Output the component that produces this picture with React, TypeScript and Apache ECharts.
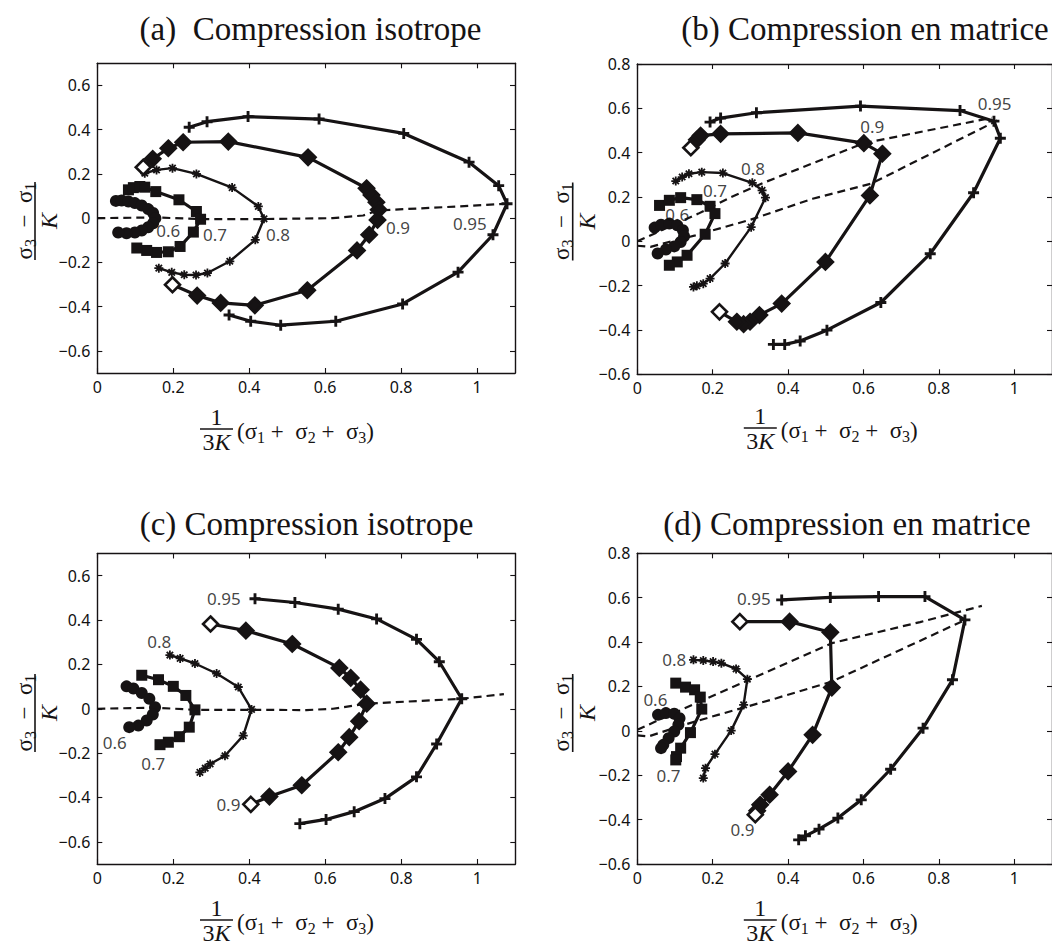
import React, { useEffect, useRef } from "react";
import * as echarts from "echarts";

// ---------- tick values ----------
const xTicks = [0, 0.2, 0.4, 0.6, 0.8, 1];
const yTicksIso = [-0.6, -0.4, -0.2, 0, 0.2, 0.4, 0.6];
const yTicksMat = [-0.6, -0.4, -0.2, 0, 0.2, 0.4, 0.6, 0.8];
const levels = ["0.6", "0.7", "0.8", "0.9", "0.95"];

// ---------- (a) Compression isotrope ----------
const a60 = [[0.049,0.078],[0.064,0.080],[0.082,0.075],[0.099,0.068],[0.117,0.057],[0.134,0.041],[0.147,0.023],[0.153,0.0],[0.147,-0.023],[0.134,-0.041],[0.117,-0.056],[0.099,-0.065],[0.077,-0.068],[0.055,-0.065]];
const a70 = [[0.082,0.128],[0.095,0.138],[0.112,0.143],[0.125,0.140],[0.154,0.120],[0.215,0.083],[0.261,0.030],[0.272,-0.005],[0.253,-0.063],[0.218,-0.128],[0.187,-0.152],[0.156,-0.155],[0.130,-0.146],[0.104,-0.135]];
const a80 = [[0.125,0.203],[0.156,0.218],[0.198,0.226],[0.261,0.200],[0.355,0.138],[0.424,0.053],[0.439,-0.003],[0.416,-0.098],[0.349,-0.195],[0.290,-0.248],[0.260,-0.257],[0.229,-0.256],[0.196,-0.245],[0.162,-0.226]];
const a90 = [[0.121,0.230],[0.146,0.268],[0.187,0.316],[0.226,0.343],[0.345,0.346],[0.555,0.275],[0.709,0.135],[0.722,0.105],[0.735,0.072],[0.741,0.038],[0.738,-0.008],[0.716,-0.075],[0.684,-0.146],[0.553,-0.326],[0.415,-0.394],[0.325,-0.383],[0.263,-0.350],[0.198,-0.301]];
const a95 = [[0.242,0.411],[0.289,0.436],[0.397,0.459],[0.584,0.448],[0.807,0.383],[0.979,0.253],[1.057,0.147],[1.079,0.065],[1.042,-0.075],[0.950,-0.244],[0.804,-0.388],[0.628,-0.466],[0.483,-0.484],[0.404,-0.466],[0.347,-0.438]];
const aDash = [[0,0],[0.153,0.003],[0.272,-0.004],[0.439,-0.004],[0.62,0.0],[0.70,0.012],[0.741,0.035],[0.884,0.047],[1.079,0.065]];
const aLabels = [[0.187,-0.056],[0.310,-0.075],[0.476,-0.075],[0.792,-0.042],[0.981,-0.023]];

// ---------- (b) Compression en matrice ----------
const b60 = [[0.046,0.062],[0.063,0.075],[0.085,0.080],[0.106,0.072],[0.121,0.050],[0.124,0.023],[0.115,-0.003],[0.098,-0.023],[0.076,-0.037],[0.054,-0.055]];
const b70 = [[0.059,0.162],[0.085,0.185],[0.115,0.197],[0.158,0.188],[0.193,0.158],[0.206,0.125],[0.180,0.032],[0.132,-0.063],[0.106,-0.093],[0.085,-0.108]];
const b80 = [[0.102,0.272],[0.119,0.290],[0.137,0.305],[0.171,0.312],[0.227,0.308],[0.305,0.264],[0.331,0.230],[0.340,0.197],[0.302,0.064],[0.233,-0.100],[0.193,-0.168],[0.175,-0.191],[0.158,-0.201],[0.149,-0.206]];
const b90 = [[0.142,0.422],[0.158,0.458],[0.168,0.477],[0.221,0.485],[0.426,0.489],[0.601,0.443],[0.650,0.395],[0.617,0.207],[0.499,-0.093],[0.383,-0.281],[0.324,-0.333],[0.299,-0.363],[0.282,-0.374],[0.264,-0.363],[0.218,-0.318]];
const b95 = [[0.193,0.538],[0.221,0.556],[0.316,0.580],[0.592,0.610],[0.856,0.590],[0.946,0.542],[0.963,0.465],[0.892,0.219],[0.777,-0.056],[0.646,-0.276],[0.503,-0.401],[0.432,-0.450],[0.391,-0.465],[0.361,-0.465]];
const bDashUpper = [[0,0],[0.162,0.125],[0.249,0.200],[0.339,0.267],[0.601,0.443],[0.94,0.557]];
const bDashLower = [[0,-0.02],[0.035,-0.025],[0.154,0.027],[0.301,0.098],[0.465,0.192],[0.62,0.26],[0.955,0.545]];
const bLabels = [[0.106,0.120],[0.206,0.230],[0.307,0.327],[0.623,0.518],[0.948,0.620]];

// ---------- (c) Compression isotrope ----------
const c60 = [[0.077,0.101],[0.095,0.091],[0.117,0.071],[0.137,0.045],[0.152,0.007],[0.146,-0.026],[0.130,-0.053],[0.108,-0.076],[0.084,-0.083]];
const c70 = [[0.117,0.151],[0.161,0.131],[0.200,0.101],[0.233,0.060],[0.257,-0.005],[0.242,-0.083],[0.216,-0.126],[0.187,-0.151],[0.165,-0.162]];
const c80 = [[0.191,0.242],[0.218,0.227],[0.257,0.204],[0.314,0.159],[0.371,0.098],[0.406,-0.003],[0.384,-0.121],[0.336,-0.212],[0.297,-0.249],[0.284,-0.268],[0.270,-0.287]];
const c90 = [[0.298,0.382],[0.391,0.352],[0.513,0.292],[0.637,0.184],[0.667,0.139],[0.693,0.086],[0.709,0.023],[0.689,-0.056],[0.663,-0.128],[0.634,-0.196],[0.538,-0.345],[0.453,-0.396],[0.404,-0.431]];
const c95 = [[0.415,0.496],[0.520,0.479],[0.634,0.449],[0.735,0.405],[0.840,0.313],[0.900,0.212],[0.959,0.045],[0.893,-0.159],[0.840,-0.307],[0.757,-0.405],[0.676,-0.464],[0.602,-0.499],[0.533,-0.518]];
const cDash = [[0,0],[0.152,0.005],[0.257,-0.005],[0.406,-0.005],[0.55,-0.006],[0.62,0.0],[0.709,0.023],[0.959,0.045],[1.07,0.066]];
const cLabels = [[0.046,-0.151],[0.147,-0.249],[0.163,0.302],[0.345,-0.431],[0.333,0.496]];

// ---------- (d) Compression en matrice ----------
const d60 = [[0.055,0.072],[0.076,0.080],[0.098,0.077],[0.112,0.057],[0.109,0.027],[0.098,-0.003],[0.083,-0.033],[0.069,-0.063],[0.063,-0.078]];
const d70 = [[0.102,0.215],[0.128,0.197],[0.152,0.185],[0.167,0.152],[0.171,0.098],[0.141,-0.008],[0.115,-0.078],[0.104,-0.116],[0.102,-0.131]];
const d80 = [[0.149,0.320],[0.175,0.317],[0.201,0.312],[0.223,0.305],[0.262,0.279],[0.292,0.233],[0.282,0.117],[0.249,0.001],[0.206,-0.105],[0.181,-0.168],[0.175,-0.213]];
const d90 = [[0.272,0.492],[0.404,0.492],[0.512,0.444],[0.516,0.195],[0.465,-0.018],[0.400,-0.183],[0.351,-0.288],[0.326,-0.333],[0.318,-0.360],[0.313,-0.378]];
const d95 = [[0.383,0.590],[0.512,0.601],[0.640,0.605],[0.763,0.605],[0.869,0.500],[0.836,0.230],[0.758,0.012],[0.672,-0.173],[0.594,-0.311],[0.532,-0.393],[0.482,-0.443],[0.446,-0.473],[0.428,-0.491]];
const dDashUpper = [[0,0.005],[0.15,0.12],[0.29,0.225],[0.516,0.395],[0.75,0.49],[0.914,0.563]];
const dDashLower = [[0,-0.02],[0.03,-0.025],[0.12,0.025],[0.214,0.072],[0.369,0.147],[0.516,0.222],[0.87,0.50]];
const dLabels = [[0.048,0.140],[0.083,-0.203],[0.098,0.320],[0.279,-0.446],[0.309,0.595]];

// ---------- styling ----------
const INK = "#161314";
const SERIF = '"Liberation Serif", "DejaVu Serif", serif';
const SANS = '"Noto Sans", "Liberation Sans", sans-serif';
const PLUS = "path://M-1.3,-5L1.3,-5L1.3,-1.3L5,-1.3L5,1.3L1.3,1.3L1.3,5L-1.3,5L-1.3,1.3L-5,1.3L-5,-1.3L-1.3,-1.3Z";
const STAR = "path://M-1,-5L1,-5L1,5L-1,5Z M-5,-1L5,-1L5,1L-5,1Z M-2.83,-4.24L4.24,2.83L2.83,4.24L-4.24,-2.83Z M-4.24,2.83L2.83,-4.24L4.24,-2.83L-2.83,4.24Z";

const markers = [
  { symbol: "circle", size: 12, fill: INK, bw: 0, lw: 3.2 },
  { symbol: "rect", size: 11, fill: INK, bw: 0, lw: 3.2 },
  { symbol: STAR, size: 9, fill: INK, bw: 0, lw: 2.4 },
  { symbol: "diamond", size: 15, fill: INK, bw: 2.6, lw: 3.2 },
  { symbol: PLUS, size: 11, fill: INK, bw: 0, lw: 3.2 },
];

const panels = [
  {
    grid: { left: 97.3, top: 63.3, width: 417.7, height: 309.7 },
    yMin: -0.7, yMax: 0.7, yTicks: yTicksIso,
    curves: [a60, a70, a80, a90, a95], dashes: [aDash], labels: aLabels,
    title: "(a)  Compression isotrope", titleX: 310.5, titleY: 29,
    xlab: { cx: 216.5, by: 429 }, ylab: { x: 35, cy: 221 },
  },
  {
    grid: { left: 637.3, top: 64, width: 424.6, height: 310.3 },
    yMin: -0.6, yMax: 0.8, yTicks: yTicksMat,
    curves: [b60, b70, b80, b90, b95], dashes: [bDashUpper, bDashLower], labels: bLabels,
    title: "(b) Compression en matrice", titleX: 865, titleY: 29,
    xlab: { cx: 760.3, by: 428 }, ylab: { x: 572.7, cy: 221.5 },
  },
  {
    grid: { left: 97.3, top: 553.5, width: 418, height: 310.5 },
    yMin: -0.7, yMax: 0.7, yTicks: yTicksIso,
    curves: [c60, c70, c80, c90, c95], dashes: [cDash], labels: cLabels,
    title: "(c) Compression isotrope", titleX: 306.5, titleY: 524,
    xlab: { cx: 216.5, by: 920 }, ylab: { x: 35, cy: 713 },
  },
  {
    grid: { left: 637.3, top: 553.3, width: 424.6, height: 310.7 },
    yMin: -0.6, yMax: 0.8, yTicks: yTicksMat,
    curves: [d60, d70, d80, d90, d95], dashes: [dDashUpper, dDashLower], labels: dLabels,
    title: "(d) Compression en matrice", titleX: 847, titleY: 524,
    xlab: { cx: 760.3, by: 920 }, ylab: { x: 572.7, cy: 713 },
  },
];

const fmt = (v: number) => String(Math.round(v * 10) / 10).replace("-", "\u2212");

const mathRich = {
  n: { fontSize: 23, fontFamily: SERIF, fill: INK, lineHeight: 28, verticalAlign: "middle" },
  s: { fontSize: 16, fontFamily: SERIF, fill: INK, lineHeight: 14, verticalAlign: "bottom" },
};

function xLabelGraphics(cx: number, by: number) {
  return [
    { type: "text", x: cx, y: by - 12, style: { text: "1", fontSize: 24, fontFamily: SERIF, fill: INK, align: "center", verticalAlign: "middle" } },
    { type: "line", shape: { x1: cx - 16.5, y1: by, x2: cx + 16.5, y2: by }, style: { stroke: INK, lineWidth: 1.6 } },
    {
      type: "text", x: cx, y: by + 13,
      style: {
        text: "{u|3}{i|K}", align: "center", verticalAlign: "middle",
        rich: { u: { fontSize: 24, fontFamily: SERIF, fill: INK }, i: { fontSize: 24, fontFamily: SERIF, fontStyle: "italic", fill: INK } },
      },
    },
    {
      type: "text", x: cx + 20.5, y: by + 2,
      style: {
        text: "{n|(\u03c3}{s|1}{n| +  \u03c3}{s|2}{n| +  \u03c3}{s|3}{n|)}",
        align: "left", verticalAlign: "middle", rich: mathRich,
      },
    },
  ];
}

function yLabelGraphics(x: number, cy: number) {
  return {
    type: "group", x, y: cy, rotation: Math.PI / 2,
    children: [
      { type: "line", shape: { x1: -39, y1: 0, x2: 39, y2: 0 }, style: { stroke: INK, lineWidth: 1.6 } },
      {
        type: "text", x: 0, y: -11,
        style: { text: "{n|\u03c3}{s|3}{n|  \u2212  \u03c3}{s|1}", align: "center", verticalAlign: "middle", rich: mathRich },
      },
      { type: "text", x: 0, y: 14, style: { text: "K", fontSize: 24, fontFamily: SERIF, fontStyle: "italic", fill: INK, align: "center", verticalAlign: "middle" } },
    ],
  };
}

function curveData(c: number[][], k: number) {
  if (k !== 3) return c;
  // hollow diamonds at both ends of each 0.9 curve
  return c.map((v, i) =>
    i === 0 || i === c.length - 1 ? { value: v, itemStyle: { color: "#ffffff" } } : v
  );
}

function buildOption() {
  const grid: any[] = [];
  const xAxis: any[] = [];
  const yAxis: any[] = [];
  const series: any[] = [];
  const graphic: any[] = [];
  const axisLineStyle = { color: INK, width: 1.4 };
  const labelStyle = { fontFamily: SANS, fontSize: 16, color: "#111111" };

  panels.forEach((p, g) => {
    grid.push({ ...p.grid });
    const base = { type: "value", gridIndex: g, splitLine: { show: false } };
    xAxis.push({
      ...base, position: "bottom", min: 0, max: 1.1, interval: 0.1,
      axisLine: { show: true, onZero: false, lineStyle: axisLineStyle },
      axisTick: { show: true, inside: true, length: 5, customValues: xTicks, lineStyle: { color: INK, width: 1.1 } },
      axisLabel: { show: true, customValues: xTicks, formatter: fmt, margin: 6, ...labelStyle },
    });
    xAxis.push({
      ...base, position: "top", min: 0, max: 1.1, interval: 0.1,
      axisLine: { show: true, onZero: false, lineStyle: axisLineStyle },
      axisTick: { show: true, inside: true, length: 5, customValues: xTicks, lineStyle: { color: INK, width: 1.1 } },
      axisLabel: { show: false },
    });
    yAxis.push({
      ...base, position: "left", min: p.yMin, max: p.yMax, interval: 0.1,
      axisLine: { show: true, onZero: false, lineStyle: axisLineStyle },
      axisTick: { show: true, inside: true, length: 5, customValues: p.yTicks, lineStyle: { color: INK, width: 1.1 } },
      axisLabel: { show: true, customValues: p.yTicks, formatter: fmt, margin: 7, ...labelStyle },
    });
    yAxis.push({
      ...base, position: "right", min: p.yMin, max: p.yMax, interval: 0.1,
      axisLine: { show: true, onZero: false, lineStyle: axisLineStyle },
      axisTick: { show: true, inside: true, length: 5, customValues: p.yTicks, lineStyle: { color: INK, width: 1.1 } },
      axisLabel: { show: false },
    });

    const xi = 2 * g;
    const yi = 2 * g;
    p.dashes.forEach((d) => {
      series.push({
        type: "line", xAxisIndex: xi, yAxisIndex: yi, data: d, symbol: "none",
        lineStyle: { color: INK, width: 2.2, type: [8, 5] }, z: 2, silent: true,
      });
    });
    p.curves.forEach((c, k) => {
      const m = markers[k];
      series.push({
        type: "line", xAxisIndex: xi, yAxisIndex: yi, data: curveData(c, k),
        symbol: m.symbol, symbolSize: m.size, showSymbol: true,
        lineStyle: { color: INK, width: m.lw },
        itemStyle: { color: m.fill, borderColor: INK, borderWidth: m.bw },
        z: 3, silent: true,
      });
    });
    series.push({
      type: "scatter", xAxisIndex: xi, yAxisIndex: yi,
      data: p.labels.map((v, i) => ({ value: v, name: levels[i] })),
      symbolSize: 1, itemStyle: { color: "rgba(0,0,0,0)" },
      label: {
        show: true, position: "inside", formatter: "{b}", fontFamily: SANS, fontSize: 17,
        color: "#111111", textBorderWidth: 0, textBorderColor: "transparent", textShadowBlur: 0,
      },
      z: 5, silent: true,
    });

    graphic.push({
      type: "text", x: p.titleX, y: p.titleY,
      style: { text: p.title, fontSize: 33, fontFamily: SERIF, fill: INK, align: "center", verticalAlign: "middle" },
    });
    graphic.push(...xLabelGraphics(p.xlab.cx, p.xlab.by));
    graphic.push(yLabelGraphics(p.ylab.x, p.ylab.cy));
  });

  return { animation: false, backgroundColor: "#ffffff", grid, xAxis, yAxis, series, graphic };
}

export default function App() {
  const ref = useRef<HTMLDivElement>(null);
  useEffect(() => {
    if (!ref.current) return;
    const chart = echarts.init(ref.current, undefined, { renderer: "svg" });
    chart.setOption(buildOption() as any);
    return () => chart.dispose();
  }, []);
  return (
    <div
      ref={ref}
      style={{ position: "fixed", left: 0, top: 0, width: 1052, height: 947, background: "#fff" }}
    />
  );
}
